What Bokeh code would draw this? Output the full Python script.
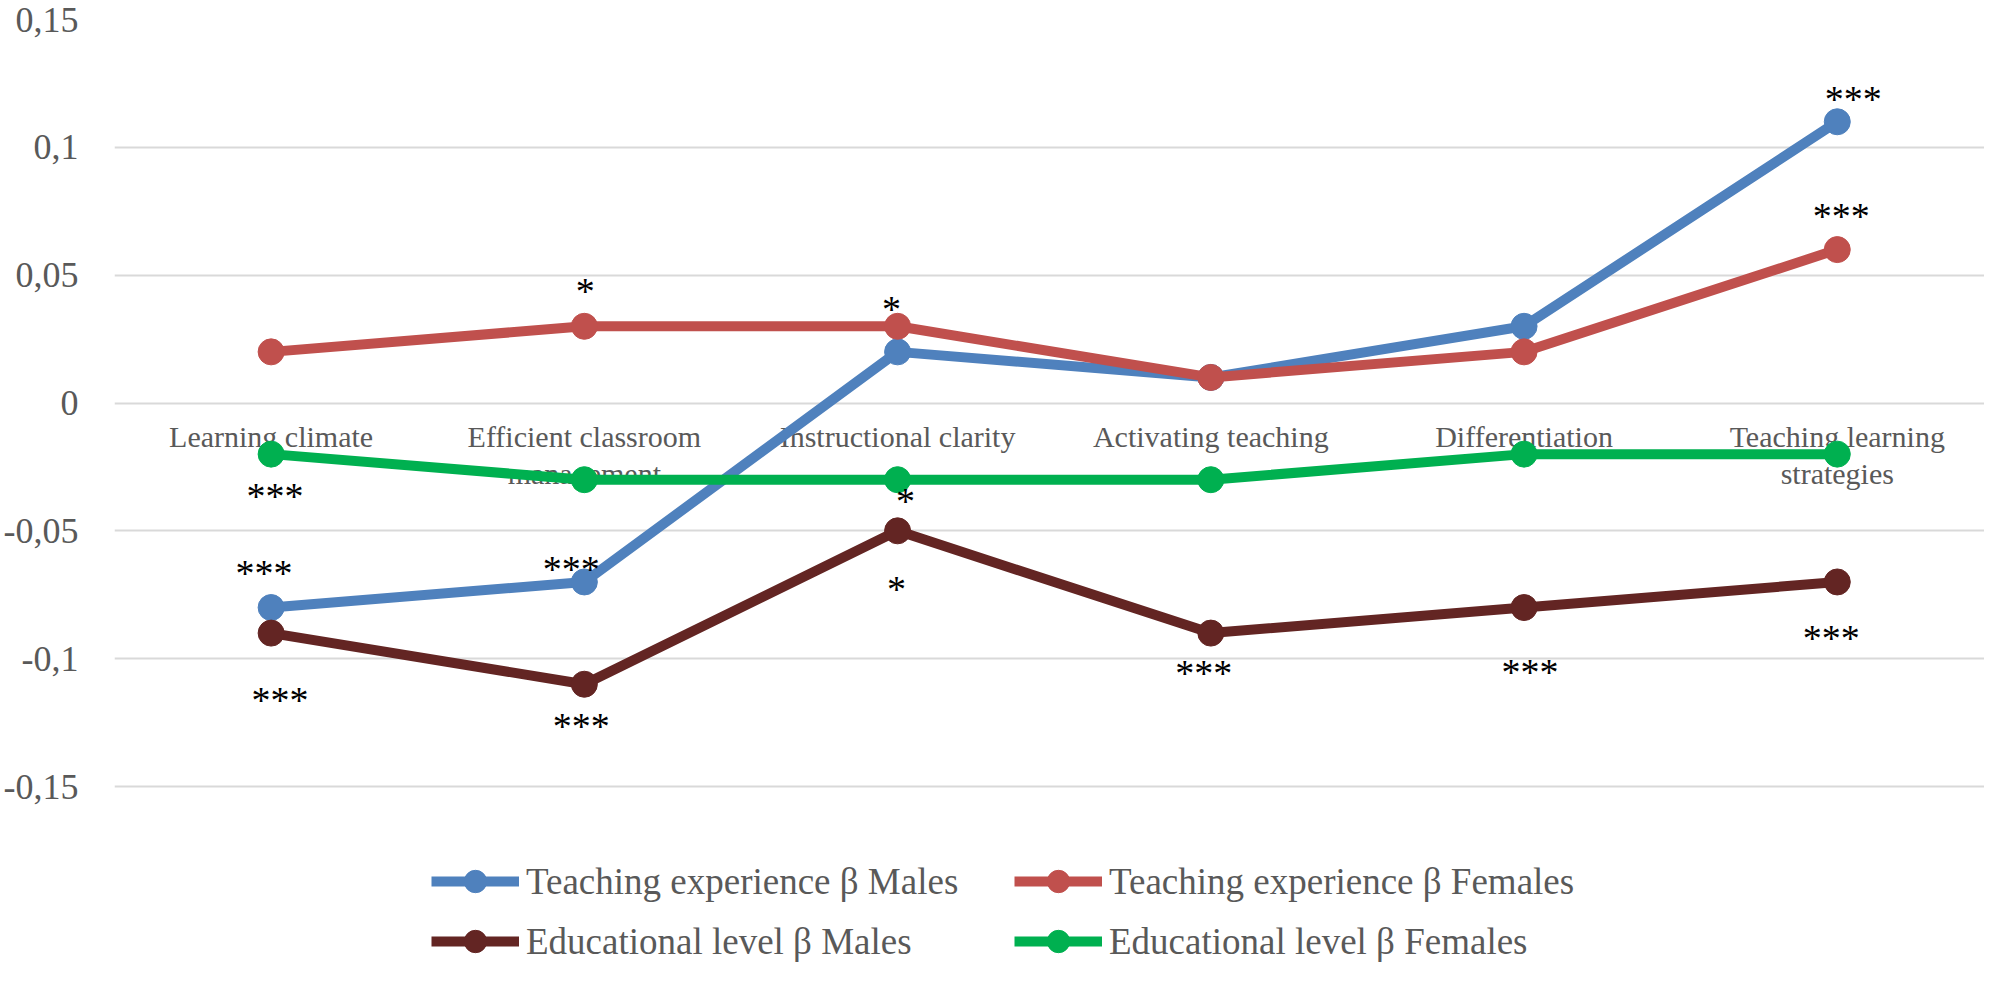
from bokeh.plotting import figure
from bokeh.models import Range1d, FixedTicker, Legend, LegendItem, ColumnDataSource
from bokeh.core.properties import value
from bokeh.embed import file_html
from bokeh.resources import INLINE

# ---------------- data ----------------
categories = ["Learning climate", "Efficient classroom\nmanagement", "Instructional clarity",
              "Activating teaching", "Differentiation", "Teaching learning\nstrategies"]

te_males = [-0.08, -0.07, 0.02, 0.01, 0.03, 0.11]
te_females = [0.02, 0.03, 0.03, 0.01, 0.02, 0.06]
el_males = [-0.09, -0.11, -0.05, -0.09, -0.08, -0.07]
el_females = [-0.02, -0.03, -0.03, -0.03, -0.02, -0.02]

series_names = ["Teaching experience β Males", "Teaching experience β Females",
                "Educational level β Males", "Educational level β Females"]

ytick_values = [-0.15, -0.1, -0.05, 0, 0.05, 0.1, 0.15]
ytick_labels = ["-0,15", "-0,1", "-0,05", "0", "0,05", "0,1", "0,15"]

# significance markers: series index, category index, text
ann_series = [3, 0, 2, 1, 0, 2, 1, 2, 2, 2, 2, 0, 1, 2]
ann_cat = [0, 0, 0, 1, 1, 1, 2, 2, 2, 3, 4, 5, 5, 5]
ann_text = ["***", "***", "***", "*", "***", "***", "*", "*", "*", "***", "***", "***", "***", "***"]

# ---------------- layout / style ----------------
colors = ["#4F81BD", "#C0504D", "#632523", "#00B050"]
ann_dx = [4, -7, 9, 1, -13, -3, -6, 8, -1, -7, 6, 16, 4, -6]
ann_dy = [42, -35, 67, -35, -13, 42, -17, -30, 58, 40, 64, -23, -34, 56]
SERIF = "Liberation Serif"
GRAY = "#595959"

W, H = 1984, 966
TOP, LEFT = 19, 104
AXIS_BOTTOM_PX = 786          # where -0.15 sits (px from top of canvas)
px_per_unit = (AXIS_BOTTOM_PX - TOP) / 0.3
y_start = -0.15 - (H - AXIS_BOTTOM_PX) / px_per_unit

all_series = [te_males, te_females, el_males, el_females]
xs = list(range(len(categories)))

p = figure(width=W, height=H, output_backend="svg", toolbar_location=None,
           x_range=Range1d(-0.5, len(categories) - 0.53), y_range=Range1d(y_start, 0.15),
           x_axis_location=None, min_border_left=LEFT, min_border_right=0,
           min_border_top=TOP, min_border_bottom=0)
p.outline_line_color = None
p.background_fill_color = "white"
p.xgrid.visible = False

p.yaxis.ticker = FixedTicker(ticks=ytick_values)
p.ygrid.ticker = FixedTicker(ticks=ytick_values)
p.yaxis.major_label_overrides = {v: l for v, l in zip(ytick_values, ytick_labels)}
p.yaxis.axis_line_color = None
p.yaxis.major_tick_line_color = None
p.yaxis.minor_tick_line_color = None
p.yaxis.major_label_standoff = 30
p.yaxis.major_label_text_font = SERIF
p.yaxis.major_label_text_font_size = "36px"
p.yaxis.major_label_text_color = GRAY
p.ygrid.grid_line_color = "#D9D9D9"
p.ygrid.grid_line_width = 2

# category labels (drawn below the series, next to the zero line)
p.text(x=xs, y=[0] * len(xs), text=categories, text_font=value(SERIF),
       text_font_size="30px", text_color=GRAY, text_align="center",
       text_baseline="top", y_offset=17, text_line_height=1.12)

renderers = []
for vals, col in zip(all_series, colors):
    ln = p.line(xs, vals, line_color=col, line_width=10, line_join="round")
    sc = p.scatter(xs, vals, marker="circle", size=26, fill_color=col, line_color=col)
    renderers.append([ln, sc])

ann_src = ColumnDataSource(dict(
    x=ann_cat,
    y=[all_series[s][c] for s, c in zip(ann_series, ann_cat)],
    text=ann_text,
    xo=ann_dx,
    yo=ann_dy,
))
p.text(x="x", y="y", text="text", x_offset="xo", y_offset="yo", source=ann_src,
       text_font=value(SERIF), text_font_size="38px", text_color="black",
       text_align="center", text_baseline="middle")

legend = Legend(items=[LegendItem(label=series_names[i], renderers=renderers[i]) for i in range(4)],
                orientation="horizontal", ncols=2, location=(317, -3), padding=0, margin=0,
                spacing=4, glyph_width=88, glyph_height=56, label_height=56, label_standoff=7,
                label_width=484, label_text_font=SERIF, label_text_font_size="37px",
                label_text_color=GRAY, border_line_color=None, background_fill_alpha=0)
p.add_layout(legend)

open("out.html", "w").write(file_html(p, INLINE))
